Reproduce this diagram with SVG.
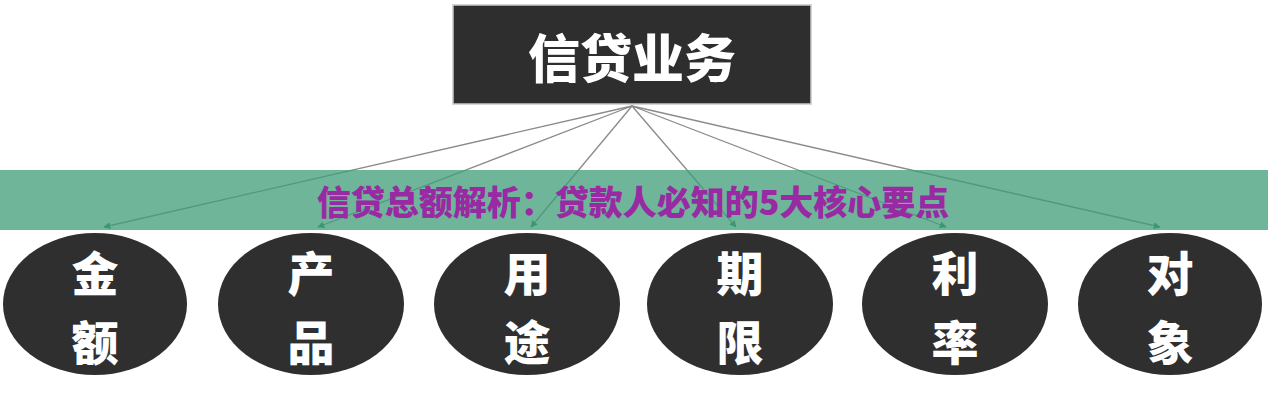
<svg xmlns="http://www.w3.org/2000/svg" width="1268" height="400" viewBox="0 0 1268 400">
<style>
.bg{fill:#ffffff}
.box{fill:#2e2e2e;stroke:#c8c8c8;stroke-width:1.5}
.ell{fill:#2f2f2f}
.t{font-family:"Noto Sans CJK SC","Noto Sans",sans-serif;font-weight:900;fill:#ffffff;text-anchor:middle}
.c{font-size:47px}
.conn{stroke:#8a8a8a;stroke-width:1.3;fill:none;marker-end:url(#ah)}
.banner{fill:#3d9c78;fill-opacity:0.75}
.title{font-family:"Noto Sans CJK SC","Noto Sans",sans-serif;font-weight:900;fill:#9a2aa3;font-size:34px;text-anchor:middle}
</style>
<defs>
<marker id="ah" viewBox="0 0 10 10" refX="9" refY="5" markerWidth="7" markerHeight="7" orient="auto" markerUnits="userSpaceOnUse">
<path d="M0,0 L10,5 L0,10 z" fill="#2e8a68"/>
</marker>
</defs>
<rect class="bg" x="0" y="0" width="1268" height="400"/>
<g id="connectors">
<line class="conn" x1="632" y1="106" x2="104" y2="227"/>
<line class="conn" x1="632" y1="106" x2="318" y2="227"/>
<line class="conn" x1="632" y1="106" x2="531" y2="227"/>
<line class="conn" x1="632" y1="106" x2="736" y2="227"/>
<line class="conn" x1="632" y1="106" x2="946" y2="227"/>
<line class="conn" x1="632" y1="106" x2="1160" y2="227"/>
</g>
<g id="root">
<rect class="box" x="453" y="5" width="358" height="99"/>
<text class="t" x="632" y="78" font-size="52">信贷业务</text>
</g>
<g id="banner">
<rect class="banner" x="0" y="170" width="1268" height="60"/>
<text class="title" x="633" y="215">信贷总额解析：贷款人必知的5大核心要点</text>
</g>
<g id="n1"><ellipse class="ell" cx="95" cy="304" rx="92" ry="71"/><text class="t c" x="95" y="291">金</text><text class="t c" x="95" y="360">额</text></g>
<g id="n2"><ellipse class="ell" cx="311" cy="304" rx="93" ry="71"/><text class="t c" x="311" y="291">产</text><text class="t c" x="311" y="360">品</text></g>
<g id="n3"><ellipse class="ell" cx="527" cy="304" rx="93" ry="71"/><text class="t c" x="527" y="291">用</text><text class="t c" x="527" y="360">途</text></g>
<g id="n4"><ellipse class="ell" cx="740" cy="304" rx="93" ry="71"/><text class="t c" x="740" y="291">期</text><text class="t c" x="740" y="360">限</text></g>
<g id="n5"><ellipse class="ell" cx="955" cy="304" rx="93" ry="71"/><text class="t c" x="955" y="291">利</text><text class="t c" x="955" y="360">率</text></g>
<g id="n6"><ellipse class="ell" cx="1170" cy="304" rx="92" ry="71"/><text class="t c" x="1170" y="291">对</text><text class="t c" x="1170" y="360">象</text></g>
</svg>
